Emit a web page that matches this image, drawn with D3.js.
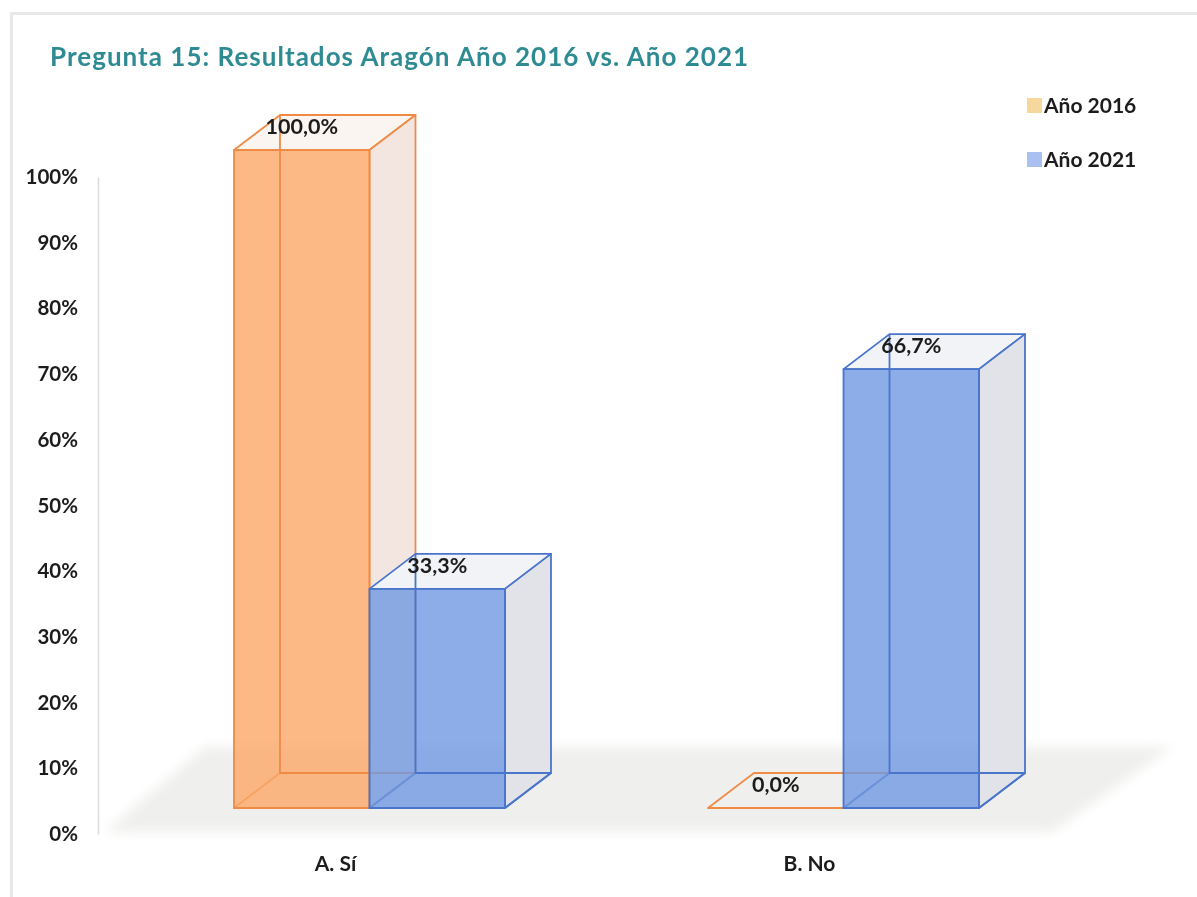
<!DOCTYPE html>
<html>

<head>
    <meta charset="utf-8">
    <title>Pregunta 15</title>
    <script src="https://cdn.jsdelivr.net/npm/d3@7"></script>
    <style>
        html, body { margin: 0; padding: 0; background: #fff; }
        svg { display: block; font-family: Lato, "Open Sans", sans-serif; font-weight: 700; }
    </style>
</head>

<body>
    <script>
        const categories = ["A. Sí", "B. No"];
        const seriesNames = ["Año 2016", "Año 2021"];
        const values2016 = [1, 0];
        const values2021 = [0.333, 0.667];
        const tickValues = [0, 0.1, 0.2, 0.3, 0.4, 0.5, 0.6, 0.7, 0.8, 0.9, 1];
        const titleText = "Pregunta 15: Resultados Aragón Año 2016 vs. Año 2021";

        const width = 1197;
        const height = 897;

        // how far the back of each box is pushed
        const depthX = 46;
        const depthY = -35;

        const styles = [
            { fill: "#fba868", stroke: "#ef8b45", side: "#f3e6e0", top: "#fbf5f1", legend: "#f6d79c" },
            { fill: "#6f98e2", stroke: "#4a74ca", side: "#e1e3e9", top: "#f2f3f6", legend: "#a9c0f1" }
        ];

        const svg = d3.select("body").append("svg")
            .attr("width", width)
            .attr("height", height)
            .attr("viewBox", [0, 0, width, height]);

        const defs = svg.append("defs");
        defs.append("filter").attr("id", "soft").append("feGaussianBlur").attr("stdDeviation", 0.55);
        defs.append("filter").attr("id", "floorBlur")
            .attr("x", "-10%").attr("width", "120%")
            .append("feGaussianBlur").attr("stdDeviation", 6);

        // card outline
        svg.append("path")
            .attr("d", "M11.5,897V13.5H1197")
            .attr("fill", "none")
            .attr("stroke", "#e8e8e8")
            .attr("stroke-width", 3);

        const root = svg.append("g").attr("filter", "url(#soft)");

        // floor of the 3d plot
        root.append("path")
            .attr("d", "M105,832L205,747H1172L1052,832Z")
            .attr("fill", "#efefed")
            .attr("filter", "url(#floorBlur)");

        root.append("text")
            .attr("x", 50)
            .attr("y", 66)
            .attr("fill", "#2f8b93")
            .style("font-size", "26px")
            .style("letter-spacing", "1.02px")
            .text(titleText);

        // bars and axis are the same values but the box sits a bit higher than the axis
        const yAxisScale = d3.scaleLinear().domain([0, 1]).range([834, 177]);
        const yBar = d3.scaleLinear().domain([0, 1]).range([808, 150]);

        const x0 = d3.scaleBand().domain(categories).range([132.5, 1080.5]).paddingInner(0.4283).paddingOuter(0.2141);
        const x1 = d3.scaleBand().domain(seriesNames).range([0, x0.bandwidth()]);

        const yAxis = root.append("g")
            .attr("transform", "translate(98,0)")
            .call(d3.axisLeft(yAxisScale).tickValues(tickValues).tickFormat(d3.format(".0%")).tickSize(0).tickPadding(20));
        yAxis.select(".domain").attr("stroke", "#dcdcdc").attr("stroke-width", 1.5);
        yAxis.selectAll("text")
            .attr("fill", "#1c1c1c")
            .style("font-family", "Lato, sans-serif")
            .style("font-weight", 700)
            .style("font-size", "20.5px");

        const xAxis = root.append("g")
            .attr("transform", "translate(-34,851)")
            .call(d3.axisBottom(x0).tickSize(0).tickPadding(5));
        xAxis.select(".domain").remove();
        xAxis.selectAll("text")
            .attr("fill", "#1c1c1c")
            .style("font-family", "Lato, sans-serif")
            .style("font-weight", 700)
            .style("font-size", "21px");

        const rows = [];
        seriesNames.forEach((name, s) => {
            const vals = s === 0 ? values2016 : values2021;
            categories.forEach((c, i) => rows.push({ name, s, c, v: vals[i] }));
        });

        const poly = pts => "M" + pts.map(p => p.join(",")).join("L") + "Z";

        const boxes = root.append("g")
            .selectAll("g")
            .data(rows)
            .enter()
            .append("g")
            .attr("stroke", d => styles[d.s].stroke)
            .attr("stroke-width", 1.8)
            .attr("stroke-linejoin", "round");

        boxes.each(function (d) {
            const g = d3.select(this);
            const st = styles[d.s];
            const l = x0(d.c) + x1(d.name);
            const r = l + x1.bandwidth();
            const t = yBar(d.v);
            const b = yBar(0);
            const dx = depthX, dy = depthY;

            // top
            g.append("path")
                .attr("d", poly([[l, t], [l + dx, t + dy], [r + dx, t + dy], [r, t]]))
                .attr("fill", d.v > 0 ? st.top : "none");
            if (d.v === 0) return;
            // right side, bottom
            g.append("path")
                .attr("d", poly([[r, t], [r + dx, t + dy], [r + dx, b + dy], [r, b]]))
                .attr("fill", st.side);
            g.append("path")
                .attr("d", poly([[l, b], [l + dx, b + dy], [r + dx, b + dy], [r, b]]))
                .attr("fill", "none");
            // front
            g.append("rect")
                .attr("x", l).attr("y", t)
                .attr("width", r - l).attr("height", b - t)
                .attr("fill", st.fill)
                .attr("fill-opacity", 0.8);
            // hidden back edges show through the front
            g.append("path")
                .attr("d", `M${l + dx},${t + dy}V${b + dy}H${r + dx}`)
                .attr("fill", "none");
        });

        root.append("g")
            .selectAll("text")
            .data(rows)
            .enter()
            .append("text")
            .attr("x", d => x0(d.c) + x1(d.name) + x1.bandwidth() / 2)
            .attr("y", d => yBar(d.v) - 16)
            .attr("text-anchor", "middle")
            .attr("fill", "#1c1c1c")
            .style("font-size", "21.5px")
            .text(d => d3.format(".1%")(d.v).replace(".", ","));

        // legend
        const legendY = d3.scalePoint().domain(seriesNames).range([106, 160]);
        const legend = root.append("g")
            .selectAll("g")
            .data(seriesNames)
            .enter()
            .append("g")
            .attr("transform", d => `translate(1027,${legendY(d)})`);
        legend.append("rect")
            .attr("y", -8).attr("width", 15).attr("height", 15)
            .attr("fill", (d, i) => styles[i].legend);
        legend.append("text")
            .attr("x", 17).attr("y", 7)
            .attr("fill", "#1c1c1c")
            .style("font-size", "21px")
            .text(d => d);
    </script>
</body>

</html>
